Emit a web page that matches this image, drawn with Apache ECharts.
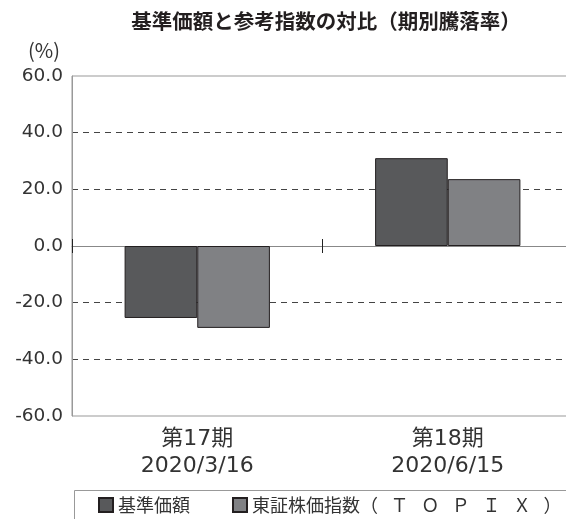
<!DOCTYPE html>
<html>
<head>
<meta charset="utf-8">
<script src="https://cdn.jsdelivr.net/npm/echarts@6/dist/echarts.min.js"></script>
<style>
  html, body { margin: 0; padding: 0; background: #fff; }
  #chart { width: 566px; height: 519px; }
</style>
</head>
<body>
<div id="chart"></div>
<script>
const categories = ['第17期\n2020/3/16', '第18期\n2020/6/15']
const fundValues = [-25.4, 31.0]
const topixValues = [-28.9, 23.6]
const seriesNames = ['基準価額', '東証株価指数（ＴＯＰＩＸ）']

const font = '"Noto Sans CJK JP", "Noto Sans", sans-serif'
const numFont = '"DejaVu Sans", "Noto Sans CJK JP", sans-serif'
const colors = ['#58595b', '#808184']

const chart = echarts.init(document.getElementById('chart'))

const option = {
  animation: false,
  textStyle: { fontFamily: font },
  title: {
    text: '基準価額と参考指数の対比（期別騰落率）',
    left: 321,
    top: 6,
    textAlign: 'center',
    textStyle: { fontSize: 20.5, fontWeight: 'bold', color: '#231f20', fontFamily: font },
  },
  grid: {
    left: 72,
    width: 501,
    top: 76,
    bottom: 103,
    outerBoundsMode: 'none',
    show: true,
    borderColor: '#999',
    borderWidth: 1,
  },
  // 凡例の枠（右端は画面外まで）
  graphic: [
    {
      type: 'rect',
      left: 72,
      top: 488,
      shape: { width: 520, height: 60 },
      style: { fill: 'none', stroke: '#999', lineWidth: 1 },
    },
  ],
  legend: {
    left: 98,
    top: 496,
    padding: 0,
    itemGap: 42,
    itemWidth: 14,
    itemHeight: 14,
    icon: 'rect',
    data: seriesNames,
    // ＴＯＰＩＸの字間を広げる
    formatter: (name) => name.replace('（ＴＯＰＩＸ）', '（\u2002\u2009Ｔ\u2002\u2009Ｏ\u2002\u2009Ｐ\u2002\u2009Ｉ\u2002\u2009Ｘ\u2002\u2009）'),
    textStyle: { fontSize: 18, color: '#333', fontFamily: font },
  },
  xAxis: [
    {
      type: 'category',
      data: categories,
      axisLine: { onZero: true, lineStyle: { color: '#888' } },
      axisTick: { show: true, interval: 0, length: 7, lineStyle: { color: '#222' } },
      axisLabel: {
        fontSize: 22,
        fontFamily: numFont,
        color: '#333',
        lineHeight: 27,
        margin: 10,
      },
    },
    {
      type: 'category',
      data: categories,
      position: 'bottom',
      offset: -170,
      axisLine: { show: false, onZero: false },
      axisTick: { show: true, interval: 0, inside: true, length: 7, lineStyle: { color: '#222' } },
      axisLabel: { show: false },
      splitLine: { show: false },
    },
  ],
  yAxis: {
    type: 'value',
    min: -60,
    max: 60,
    interval: 20,
    name: '(%)',
    nameLocation: 'end',
    nameGap: 16,
    nameTextStyle: { fontSize: 20, fontFamily: font, color: '#333', align: 'right', padding: [0, 12, 0, 0] },
    axisLine: { show: true, lineStyle: { color: '#999' } },
    axisTick: { show: false },
    axisLabel: {
      fontSize: 18.5,
      fontFamily: numFont,
      color: '#333',
      margin: 9,
      formatter: (v) => v.toFixed(1),
    },
    splitLine: {
      showMinLine: false,
      showMaxLine: false,
      lineStyle: { color: '#444', type: [6, 5] },
    },
  },
  series: [
    {
      name: seriesNames[0],
      type: 'bar',
      data: fundValues,
      barGap: '0%',
      barCategoryGap: '42%',
      itemStyle: { color: colors[0], borderColor: '#231f20', borderWidth: 1 },
    },
    {
      name: seriesNames[1],
      type: 'bar',
      data: topixValues,
      barGap: '0%',
      barCategoryGap: '42%',
      itemStyle: { color: colors[1], borderColor: '#231f20', borderWidth: 1 },
    },
  ],
}

chart.setOption(option)
</script>
</body>
</html>
